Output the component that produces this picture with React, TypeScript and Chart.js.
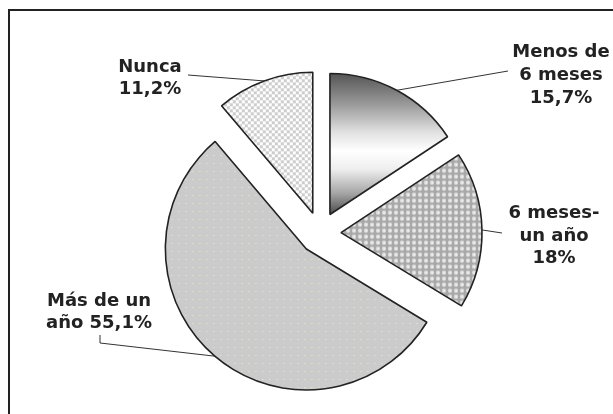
import React, { useEffect, useRef } from "react";
import { Chart, registerables } from "chart.js";

Chart.register(...registerables);

// ---- Data ----
const CATEGORIES = ["Menos de 6 meses", "6 meses-un año", "Más de un año", "Nunca"];
const VALUES = [15.7, 18, 55.1, 11.2];
const LABEL_LINES = [["Menos de", "6 meses"], ["6 meses-", "un año"], ["Más de un", "año"], ["Nunca"]];
const VALUE_ON_LAST_LINE = [false, false, true, false];

// ---- Layout / style ----
const RADIUS = 141;
const EXPLODE = 21;
const FONT = 'bold 18px "DejaVu Sans", Verdana, sans-serif';
const TEXT_COLOR = "#222";
const LABEL_ANCHORS = [
  { x: 561, y: 57, lh: 23 },
  { x: 554, y: 218, lh: 22.5 },
  { x: 99, y: 306, lh: 22 },
  { x: 150, y: 72, lh: 22 },
];
const LEADER_FROM: number[][][] = [
  [[508, 71]],
  [[502, 233]],
  [[100, 335], [100, 343]],
  [[188, 75]],
];

const fmt = (v: number) => v.toString().replace(".", ",") + "%";

function labelLines(i: number): string[] {
  const lines = LABEL_LINES[i].slice();
  const v = fmt(VALUES[i]);
  if (VALUE_ON_LAST_LINE[i]) lines[lines.length - 1] = lines[lines.length - 1] + " " + v;
  else lines.push(v);
  return lines;
}

function makeTile(w: number, h: number, draw: (c: CanvasRenderingContext2D) => void) {
  const cv = document.createElement("canvas");
  cv.width = w;
  cv.height = h;
  const c = cv.getContext("2d")!;
  draw(c);
  return c.createPattern(cv, "repeat");
}

let patternsCache: any = null;
function getPatterns() {
  if (patternsCache) return patternsCache;
  const holes = makeTile(6, 6, (c) => {
    c.fillStyle = "#a8a8a8";
    c.fillRect(0, 0, 6, 6);
    c.fillStyle = "#dcdcdc";
    c.beginPath();
    c.arc(3, 3, 2.2, 0, Math.PI * 2);
    c.fill();
    c.fillStyle = "#f4f4f4";
    c.fillRect(2.5, 2.5, 1.5, 1.5);
  });
  const dots = makeTile(7, 8, (c) => {
    c.fillStyle = "#cbcbcb";
    c.fillRect(0, 0, 7, 8);
    c.fillStyle = "#eeeed2";
    c.fillRect(3, 3, 1, 1);
  });
  const checker = makeTile(6, 6, (c) => {
    c.fillStyle = "#ffffff";
    c.fillRect(0, 0, 6, 6);
    c.fillStyle = "#cdcdcd";
    c.fillRect(0, 0, 3, 3);
    c.fillRect(3, 3, 3, 3);
  });
  patternsCache = { holes, dots, checker };
  return patternsCache;
}

function fillFor(chart: any, i: number) {
  const area = chart.chartArea;
  const p = getPatterns();
  if (i === 0) {
    if (!area) return "#999";
    const cy = (area.top + area.bottom) / 2;
    const g = chart.ctx.createLinearGradient(0, cy - RADIUS, 0, cy);
    g.addColorStop(0, "#555555");
    g.addColorStop(0.22, "#9a9a9a");
    g.addColorStop(0.42, "#e2e2e2");
    g.addColorStop(0.55, "#ffffff");
    g.addColorStop(0.68, "#eeeeee");
    g.addColorStop(0.85, "#a5a5a5");
    g.addColorStop(1, "#4a4a4a");
    return g;
  }
  if (i === 1) return p.holes;
  if (i === 2) return p.dots;
  return p.checker;
}

const explodePlugin = {
  id: "explodeLabels",
  beforeDatasetDraw(chart: any, args: any) {
    const meta = chart.getDatasetMeta(args.index);
    const ctx = chart.ctx;
    meta.data.forEach((arc: any) => {
      const mid = (arc.startAngle + arc.endAngle) / 2;
      ctx.save();
      ctx.translate(Math.cos(mid) * EXPLODE, Math.sin(mid) * EXPLODE);
      arc.draw(ctx);
      ctx.restore();
    });
    return false;
  },
  afterDatasetsDraw(chart: any) {
    const ctx = chart.ctx;
    const meta = chart.getDatasetMeta(0);
    meta.data.forEach((arc: any, i: number) => {
      const mid = (arc.startAngle + arc.endAngle) / 2;
      const r = arc.outerRadius + EXPLODE;
      const ex = arc.x + Math.cos(mid) * r;
      const ey = arc.y + Math.sin(mid) * r;
      ctx.save();
      ctx.strokeStyle = "#333";
      ctx.lineWidth = 1;
      ctx.beginPath();
      const pts = LEADER_FROM[i];
      ctx.moveTo(pts[0][0], pts[0][1]);
      for (let k = 1; k < pts.length; k++) ctx.lineTo(pts[k][0], pts[k][1]);
      ctx.lineTo(ex, ey);
      ctx.stroke();
      ctx.fillStyle = TEXT_COLOR;
      ctx.font = FONT;
      ctx.textAlign = "center";
      ctx.textBaseline = "alphabetic";
      const a = LABEL_ANCHORS[i];
      labelLines(i).forEach((line, k) => ctx.fillText(line, a.x, a.y + k * a.lh));
      ctx.restore();
    });
  },
  afterDraw(chart: any) {
    const ctx = chart.ctx;
    ctx.save();
    ctx.strokeStyle = "#222";
    ctx.lineWidth = 2;
    ctx.beginPath();
    ctx.moveTo(9, chart.height + 5);
    ctx.lineTo(9, 10);
    ctx.lineTo(chart.width + 5, 10);
    ctx.stroke();
    ctx.restore();
  },
};

export default function App() {
  const ref = useRef<HTMLCanvasElement | null>(null);
  useEffect(() => {
    if (!ref.current) return;
    const chart = new Chart(ref.current, {
      type: "pie",
      data: {
        labels: CATEGORIES,
        datasets: [
          {
            data: VALUES,
            backgroundColor: (c: any) => fillFor(c.chart, c.dataIndex),
            borderColor: "#222",
            borderWidth: 1.6,
            offset: 0,
          },
        ],
      },
      options: {
        responsive: false,
        animation: false,
        events: [],
        radius: RADIUS,
        layout: { padding: { left: 27, right: 0, top: 52, bottom: 0 } },
        plugins: { legend: { display: false }, tooltip: { enabled: false } },
      } as any,
      plugins: [explodePlugin],
    });
    return () => chart.destroy();
  }, []);
  return (
    <div style={{ position: "fixed", left: 0, top: 0, width: 613, height: 414, background: "#fff" }}>
      <canvas ref={ref} width={613} height={414} style={{ display: "block" }} />
    </div>
  );
}
